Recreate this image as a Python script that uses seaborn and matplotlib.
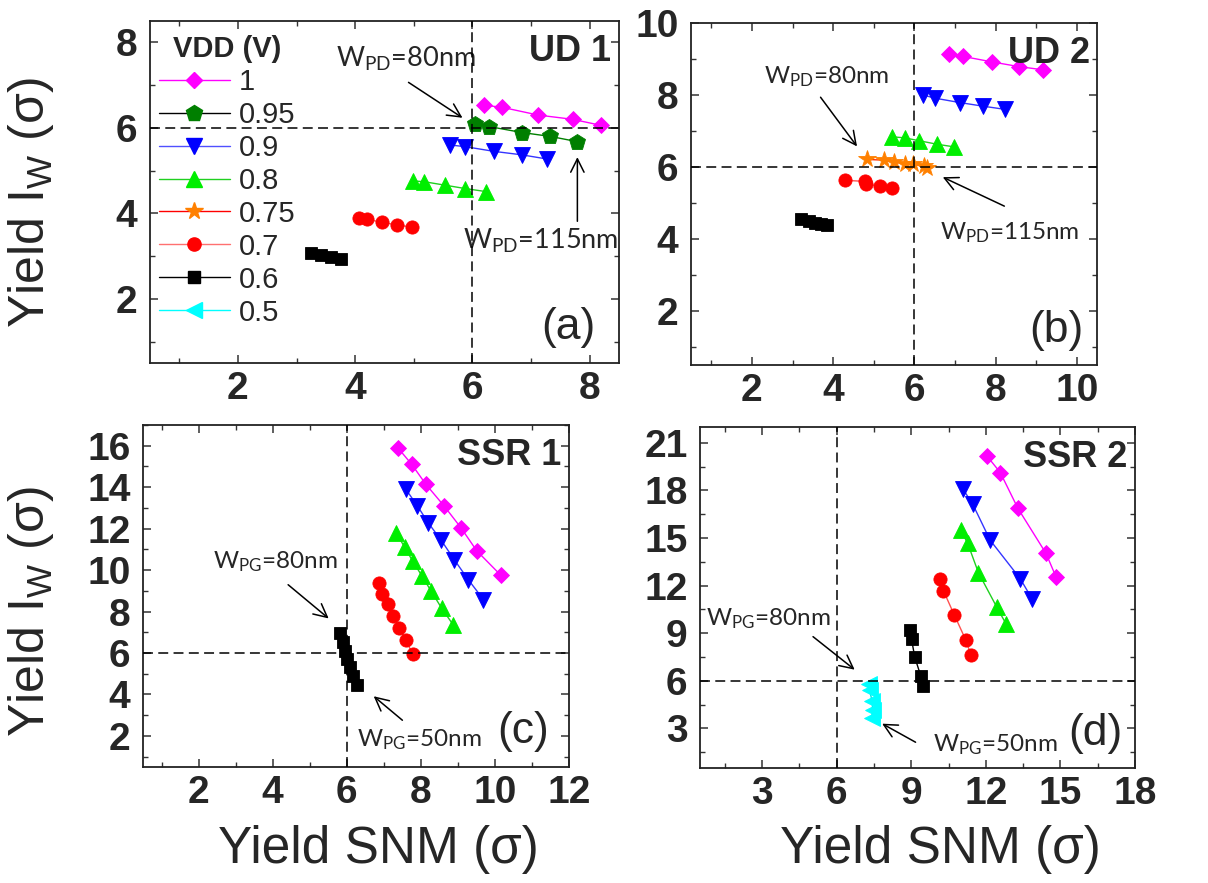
import matplotlib
matplotlib.use("Agg")
import matplotlib.pyplot as plt
import seaborn as sns
import pandas as pd
from matplotlib.lines import Line2D
from matplotlib.ticker import MultipleLocator

# ---------------- data ----------------
VDD_LEVELS = ["1", "0.95", "0.9", "0.8", "0.75", "0.7", "0.6", "0.5"]

# (a) UD 1
ud1_snm = {
    "1":    [6.20, 6.51, 7.12, 7.71, 8.19],
    "0.95": [6.05, 6.29, 6.85, 7.33, 7.78],
    "0.9":  [5.62, 5.88, 6.37, 6.84, 7.28],
    "0.8":  [4.98, 5.18, 5.53, 5.88, 6.23],
    "0.7":  [4.06, 4.21, 4.46, 4.71, 4.97],
    "0.6":  [3.25, 3.42, 3.58, 3.75],
}
ud1_iw = {
    "1":    [6.53, 6.48, 6.30, 6.20, 6.06],
    "0.95": [6.09, 6.03, 5.89, 5.80, 5.68],
    "0.9":  [5.60, 5.56, 5.45, 5.37, 5.27],
    "0.8":  [4.76, 4.74, 4.66, 4.58, 4.51],
    "0.7":  [3.89, 3.86, 3.79, 3.73, 3.68],
    "0.6":  [3.07, 3.02, 2.98, 2.93],
}

# (b) UD 2
ud2_snm = {
    "1":    [6.85, 7.21, 7.91, 8.57, 9.17],
    "0.9":  [6.21, 6.52, 7.12, 7.69, 8.24],
    "0.8":  [5.45, 5.76, 6.12, 6.57, 6.98],
    "0.75": [4.84, 5.25, 5.49, 5.78, 5.98, 6.23, 6.31],
    "0.7":  [4.30, 4.78, 4.81, 5.15, 5.45],
    "0.6":  [3.20, 3.40, 3.55, 3.70, 3.85],
}
ud2_iw = {
    "1":    [9.14, 9.07, 8.92, 8.79, 8.70],
    "0.9":  [8.00, 7.91, 7.79, 7.69, 7.60],
    "0.8":  [6.84, 6.81, 6.73, 6.63, 6.56],
    "0.75": [6.21, 6.19, 6.14, 6.09, 6.07, 6.03, 5.97],
    "0.7":  [5.63, 5.60, 5.53, 5.47, 5.41],
    "0.6":  [4.55, 4.50, 4.45, 4.42, 4.38],
}

# (c) SSR 1
ssr1_snm = {
    "1":   [7.38, 7.75, 8.14, 8.63, 9.08, 9.51, 10.16],
    "0.9": [7.60, 7.91, 8.20, 8.55, 8.90, 9.28, 9.69],
    "0.8": [7.33, 7.56, 7.78, 8.03, 8.28, 8.56, 8.88],
    "0.7": [6.87, 6.96, 7.11, 7.26, 7.42, 7.60, 7.78],
    "0.6": [5.82, 5.89, 5.96, 6.02, 6.09, 6.18, 6.27],
}
ssr1_iw = {
    "1":   [15.90, 15.11, 14.13, 13.09, 12.05, 10.93, 9.75],
    "0.9": [13.89, 13.09, 12.28, 11.44, 10.51, 9.54, 8.58],
    "0.8": [11.80, 11.12, 10.43, 9.72, 8.98, 8.17, 7.34],
    "0.7": [9.40, 8.87, 8.35, 7.79, 7.21, 6.61, 5.94],
    "0.6": [6.98, 6.53, 6.10, 5.73, 5.32, 4.87, 4.47],
}

# (d) SSR 2
ssr2_snm = {
    "1":   [12.04, 12.58, 13.29, 14.42, 14.83],
    "0.9": [11.09, 11.47, 12.17, 13.39, 13.86],
    "0.8": [10.99, 11.27, 11.70, 12.44, 12.81],
    "0.7": [10.15, 10.29, 10.73, 11.19, 11.40],
    "0.6": [8.94, 9.01, 9.14, 9.38, 9.48],
    "0.5": [7.30, 7.32, 7.42, 7.45, 7.40],
}
ssr2_iw = {
    "1":   [20.18, 19.13, 16.87, 14.03, 12.52],
    "0.9": [18.06, 17.14, 14.87, 12.42, 11.16],
    "0.8": [15.50, 14.66, 12.82, 10.64, 9.59],
    "0.7": [12.40, 11.69, 10.15, 8.58, 7.64],
    "0.6": [9.17, 8.62, 7.49, 6.31, 5.64],
    "0.5": [5.80, 5.40, 4.75, 4.15, 3.65],
}

PANEL_TITLES = ["UD 1", "UD 2", "SSR 1", "SSR 2"]
PANEL_LETTERS = ["(a)", "(b)", "(c)", "(d)"]
X_LABEL = "Yield SNM (σ)"
Y_LABEL = "Yield I$_{W}$ (σ)"
LEGEND_TITLE = "VDD (V)"

# ---------------- styles ----------------
STYLE = {
    "1":    dict(face="#FF00FF", line="#FF00FF", leg="#FF00FF", marker="D", ms=8.3),
    "0.95": dict(face="#007F00", line="#007F00", leg="#000000", marker="p", ms=12.0),
    "0.9":  dict(face="#0000FF", line="#3535FF", leg="#5050FF", marker="v", ms=11.0),
    "0.8":  dict(face="#00EE00", line="#20D020", leg="#20D020", marker="^", ms=11.0),
    "0.75": dict(face="#FF8000", line="#FF3000", leg="#FF0000", marker="*", ms=13.0),
    "0.7":  dict(face="#FF0000", line="#FF5050", leg="#FF7070", marker="o", ms=9.5),
    "0.6":  dict(face="#000000", line="#000000", leg="#000000", marker="s", ms=8.8),
    "0.5":  dict(face="#00FFFF", line="#00E0E0", leg="#00FFFF", marker="<", ms=11.0),
}

sns.set_style("ticks")
plt.rcParams.update({
    "font.family": ["Liberation Sans", "DejaVu Sans"],
    "mathtext.default": "regular",
    "xtick.direction": "in",
    "ytick.direction": "in",
    "xtick.top": True,
    "ytick.right": True,
    "axes.edgecolor": "#222222",
    "axes.linewidth": 1.3,
})

fig = plt.figure(figsize=(12.08, 8.83), dpi=100)

W, H = 1208.0, 883.0
def box(l, t, r, b):
    return [l / W, 1 - b / H, (r - l) / W, (b - t) / H]

axes = [
    fig.add_axes(box(150, 21, 619, 363)),
    fig.add_axes(box(691, 23, 1097, 365)),
    fig.add_axes(box(143, 425, 569, 767)),
    fig.add_axes(box(700, 427, 1135, 768)),
]

panel_data = [(ud1_snm, ud1_iw), (ud2_snm, ud2_iw), (ssr1_snm, ssr1_iw), (ssr2_snm, ssr2_iw)]
limits = [((0.5, 8.5), (0.5, 8.5)), ((0.5, 10.5), (0.5, 10.0)),
          ((0.5, 12.0), (0.5, 17.0)), ((0.5, 18.0), (0.5, 22.0))]
major = [(2, 2), (2, 2), (2, 2), (3, 3)]
minor = [(1, 1), (1, 1), (1, 1), (1.5, 1.5)]

for ax, (snm, iw) in zip(axes, panel_data):
    for v in VDD_LEVELS:
        if v not in snm:
            continue
        st = STYLE[v]
        df = pd.DataFrame({"snm": snm[v], "iw": iw[v]})
        sns.lineplot(data=df, x="snm", y="iw", ax=ax, sort=False, estimator=None,
                     errorbar=None, color=st["line"], linewidth=1.0,
                     marker=st["marker"], markersize=st["ms"],
                     markerfacecolor=st["face"], markeredgecolor=st["face"],
                     markeredgewidth=0.6, legend=False, zorder=3)

for i, ax in enumerate(axes):
    ax.set_xlim(*limits[i][0])
    ax.set_ylim(*limits[i][1])
    ax.xaxis.set_major_locator(MultipleLocator(major[i][0]))
    ax.yaxis.set_major_locator(MultipleLocator(major[i][1]))
    ax.xaxis.set_minor_locator(MultipleLocator(minor[i][0]))
    ax.yaxis.set_minor_locator(MultipleLocator(minor[i][1]))
    ax.tick_params(which="major", length=5.5, width=1.1, labelsize=28, color="#333333")
    ax.tick_params(axis="x", which="major", pad=6)
    ax.tick_params(axis="y", which="major", pad=9)
    ax.tick_params(which="minor", length=3.5, width=1.0, color="#333333")
    ax.tick_params(which="both", top=True, right=True)
    for lab in ax.get_xticklabels() + ax.get_yticklabels():
        lab.set_fontweight("bold")
    ax.set_xlabel("")
    ax.set_ylabel("")
    ax.axvline(6, color="k", lw=1.1, ls=(0, (6.5, 3.5)), zorder=4)
    ax.axhline(6, color="k", lw=1.1, ls=(0, (6.5, 3.5)), zorder=4)
    ax.text(0.982, 0.962, PANEL_TITLES[i], transform=ax.transAxes, ha="right", va="top",
            fontsize=26, fontweight="bold")

letter_pos = [(0.95, 0.045), (0.966, 0.04), (0.952, 0.045), (0.972, 0.04)]
for ax, let, (lx, ly) in zip(axes, PANEL_LETTERS, letter_pos):
    ax.text(lx, ly, let, transform=ax.transAxes, ha="right", va="bottom", fontsize=32)

# annotations
fam = ["Lato", "Liberation Sans", "DejaVu Sans"]
arrow = dict(arrowstyle="->", lw=1.1, color="k", mutation_scale=24)

a, b, c, d = axes
a.text(3.68, 7.61, "W$_{PD}$=80nm", ha="left", va="center", fontsize=19.5, family=fam)
a.text(5.84, 3.36, "W$_{PD}$=115nm", ha="left", va="center", fontsize=19.5, family=fam)
a.annotate("", xy=(5.87, 6.20), xytext=(4.87, 7.10), arrowprops=arrow)
a.annotate("", xy=(7.79, 5.38), xytext=(7.79, 3.75), arrowprops=arrow)

b.text(2.29, 8.50, "W$_{PD}$=80nm", ha="left", va="center", fontsize=17.5, family=fam)
b.text(6.64, 4.17, "W$_{PD}$=115nm", ha="left", va="center", fontsize=17.5, family=fam)
b.annotate("", xy=(4.63, 6.51), xytext=(3.65, 8.00), arrowprops=arrow)
b.annotate("", xy=(6.64, 5.75), xytext=(8.28, 4.88), arrowprops=arrow)

c.text(2.39, 10.4, "W$_{PG}$=80nm", ha="left", va="center", fontsize=17.5, family=fam)
c.text(6.27, 1.80, "W$_{PG}$=50nm", ha="left", va="center", fontsize=17.5, family=fam)
c.annotate("", xy=(5.57, 7.58), xytext=(4.36, 9.38), arrowprops=arrow)
c.annotate("", xy=(6.67, 4.00), xytext=(7.56, 2.67), arrowprops=arrow)

d.text(0.76, 9.90, "W$_{PG}$=80nm", ha="left", va="center", fontsize=17.5, family=fam)
d.text(9.87, 1.97, "W$_{PG}$=50nm", ha="left", va="center", fontsize=17.5, family=fam)
d.annotate("", xy=(6.81, 6.59), xytext=(4.96, 8.89), arrowprops=arrow)
d.annotate("", xy=(7.73, 3.38), xytext=(9.27, 2.04), arrowprops=arrow)

# legend
handles = [Line2D([], [], color=STYLE[v]["leg"], lw=1.0, marker=STYLE[v]["marker"],
                  markersize=STYLE[v]["ms"], markerfacecolor=STYLE[v]["face"],
                  markeredgecolor=STYLE[v]["face"]) for v in VDD_LEVELS]
leg = a.legend(handles, VDD_LEVELS, title=LEGEND_TITLE, loc="upper left",
               bbox_to_anchor=(0.0, 0.985), frameon=False, fontsize=21,
               title_fontproperties={"weight": "bold", "size": 21},
               handlelength=2.45, handletextpad=0.3, labelspacing=0.17,
               borderpad=0.3, borderaxespad=0.0)

# axis labels
fig.text(31 / W, 1 - 203 / H, Y_LABEL, rotation=90, ha="center", va="center", fontsize=36)
fig.text(31 / W, 1 - 612 / H, Y_LABEL, rotation=90, ha="center", va="center", fontsize=36)
fig.text(378 / W, 1 - 850 / H, X_LABEL, ha="center", va="center", fontsize=37)
fig.text(940 / W, 1 - 850 / H, X_LABEL, ha="center", va="center", fontsize=37)

fig.savefig("out.png", dpi=100)
